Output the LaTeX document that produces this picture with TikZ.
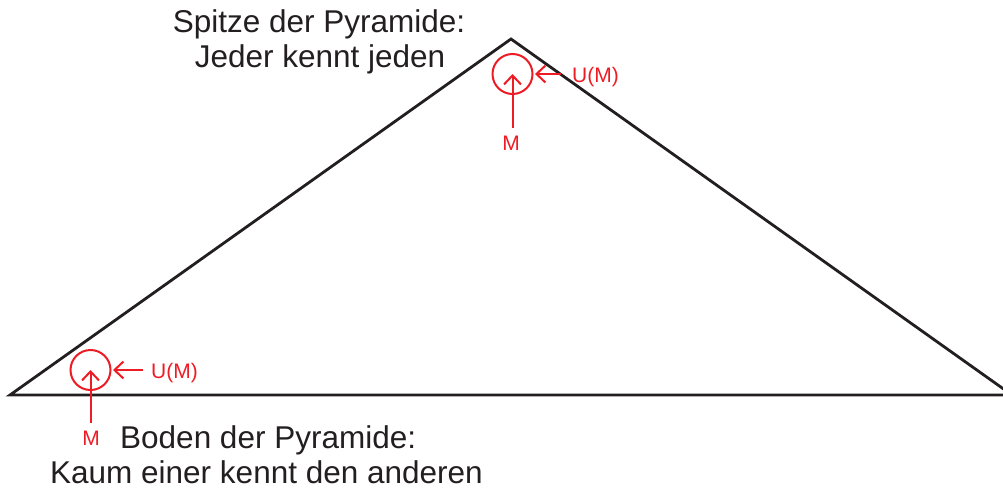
\documentclass[tikz,border=0pt]{standalone}
\usepackage{fontspec}
\setmainfont{Liberation Sans}
\usetikzlibrary{arrows.meta}
\definecolor{myred}{RGB}{237,28,36}
\definecolor{myblack}{RGB}{35,31,32}
\tikzset{
  pyr/.style={draw=myblack, line width=2.8pt, line join=miter},
  ring/.style={draw=myred, line width=2pt, circle, minimum size=40pt, inner sep=0pt},
  redarrow/.style={draw=myred, line width=2pt, -{Straight Barb[length=9pt,width=17pt,line width=2pt]}},
  bigtext/.style={font=\fontsize{31.5}{36}\selectfont, text=myblack, inner sep=0pt},
  redtext/.style={font=\fontsize{21}{24}\selectfont, text=myred, inner sep=0pt}
}
\begin{document}
\begin{tikzpicture}[x=1pt,y=-1pt]
\useasboundingbox (0,0) rectangle (1003,490);
\clip (0,0) rectangle (1003,490);
% pyramid
\coordinate (L) at (10,395);
\coordinate (A) at (511,39);
\coordinate (R) at (1012,395);
\draw[pyr] (L) -- (A) -- (R) -- cycle;
% top neighbourhood
\node[ring] (c1) at (512.5,74) {};
\coordinate (m1tail) at (512.5,128);
\coordinate (u1tail) at (561,74);
\coordinate (u1tip) at (535,74);
\draw[redarrow] (m1tail) -- (c1.center);
\draw[redarrow] (u1tail) -- (u1tip);
\node[redtext, anchor=base] (m1) at (511,150) {M};
\node[redtext, anchor=base west] (u1) at (572,82) {U(M)};
% bottom neighbourhood
\node[ring] (c2) at (90.5,370) {};
\coordinate (m2tail) at (90.5,423);
\coordinate (u2tail) at (143,370);
\coordinate (u2tip) at (113,370);
\draw[redarrow] (m2tail) -- (c2.center);
\draw[redarrow] (u2tail) -- (u2tip);
\node[redtext, anchor=base] (m2) at (91,445) {M};
\node[redtext, anchor=base west] (u2) at (151,378) {U(M)};
% texts
\node[bigtext, anchor=base] (t1) at (319,32) {Spitze der Pyramide:};
\node[bigtext, anchor=base] (t2) at (320,67) {Jeder kennt jeden};
\node[bigtext, anchor=base west] (b1) at (120,448) {Boden der Pyramide:};
\node[bigtext, anchor=base west] (b2) at (50,483) {Kaum einer kennt den anderen};
\end{tikzpicture}
\end{document}
